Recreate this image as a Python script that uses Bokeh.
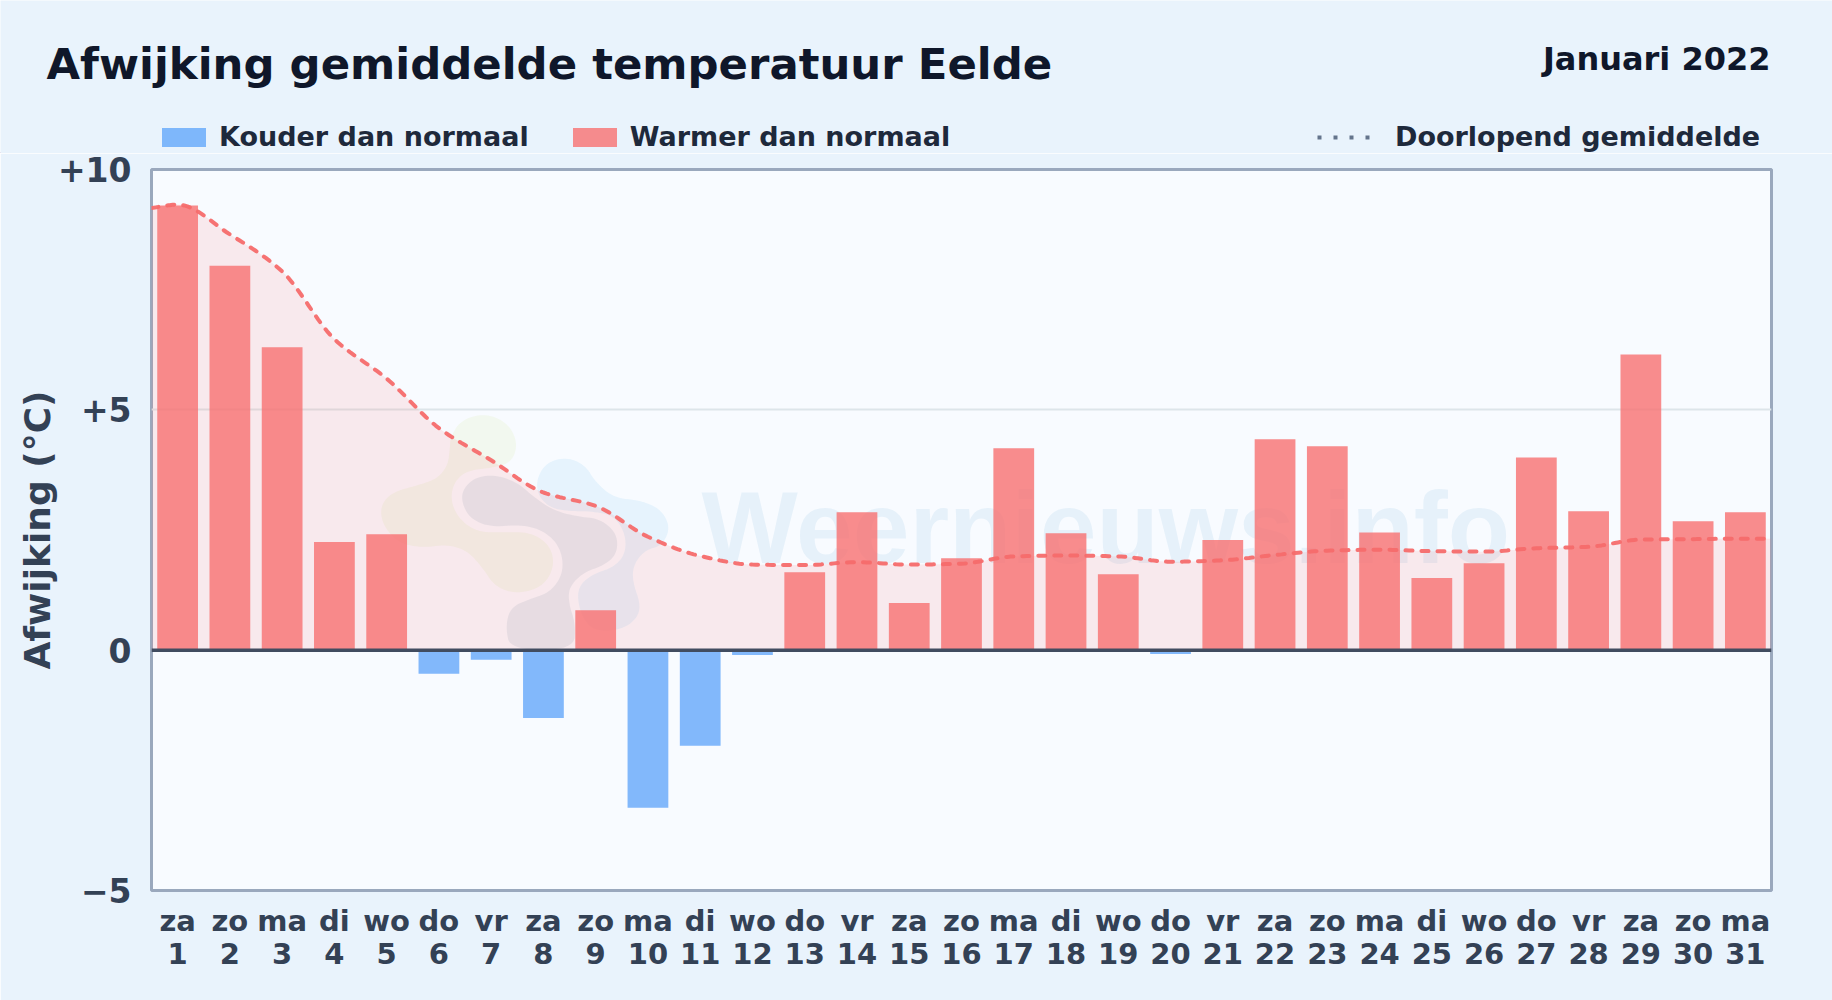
from bokeh.embed import file_html
from bokeh.layouts import column
from bokeh.models import (ColumnDataSource, FixedTicker, Label, Legend, LegendItem, LinearAxis,
                          PolyAnnotation, Range1d, Span)
from bokeh.plotting import figure
from bokeh.resources import INLINE
import numpy as np

TITLE = "Afwijking gemiddelde temperatuur Eelde"
PERIOD = "Januari 2022"
YLABEL = "Afwijking (°C)"
WATERMARK = "Weernieuws.info"

weekdays = ["za", "zo", "ma", "di", "wo", "do", "vr", "za", "zo", "ma", "di", "wo", "do", "vr", "za", "zo",
            "ma", "di", "wo", "do", "vr", "za", "zo", "ma", "di", "wo", "do", "vr", "za", "zo", "ma"]
days = list(range(1, 32))
deviation = [9.25, 8.0, 6.3, 2.25, 2.41, -0.49, -0.2, -1.41, 0.83, -3.28, -1.99, -0.1, 1.62, 2.87, 0.98, 1.91,
             4.2, 2.43, 1.58, -0.08, 2.29, 4.39, 4.24, 2.45, 1.5, 1.81, 4.01, 2.89, 6.15, 2.68, 2.87]
running_mean = [9.27, 8.65, 7.88, 6.47, 5.65, 4.62, 3.95, 3.28, 3.0, 2.36, 1.96, 1.78, 1.77, 1.83, 1.78, 1.8,
                1.95, 1.97, 1.95, 1.84, 1.87, 1.98, 2.07, 2.09, 2.06, 2.05, 2.12, 2.15, 2.3, 2.31, 2.32]
y_ticks = [-5, 0, 5, 10]
y_tick_labels = ["−5", "0", "+5", "+10"]

BG = "#e9f3fc"
PANEL = "#f8fbff"
RED = "#f87171"
BLUE = "#60a5fa"
W, H = 1832, 1000
HEADER_H = 153
LEFT, RIGHT, TOP, BOTTOM = 151, 61, 169, 110
FRAME_BOTTOM = H - BOTTOM


def monotone_path(x, y, per_segment=16):
    """Draw path of a monotone cubic through the daily values."""
    x, y = np.asarray(x, float), np.asarray(y, float)
    h = np.diff(x)
    s = np.diff(y) / h
    m = np.zeros_like(y)
    m[1:-1] = np.where(s[:-1] * s[1:] <= 0, 0, 2 * s[:-1] * s[1:] / (s[:-1] + s[1:]))
    m[0], m[-1] = s[0], s[-1]
    xs, ys = [], []
    for i in range(len(h)):
        t = np.linspace(0, 1, per_segment, endpoint=False)
        xs.extend(x[i] + t * h[i])
        ys.extend((2*t**3 - 3*t**2 + 1) * y[i] + (t**3 - 2*t**2 + t) * h[i] * m[i]
                  + (-2*t**3 + 3*t**2) * y[i+1] + (t**3 - t**2) * h[i] * m[i+1])
    xs.append(x[-1]); ys.append(y[-1])
    return xs, ys


def chaikin(points, rounds=3):
    pts = np.asarray(points, float)
    for _ in range(rounds):
        nxt = np.roll(pts, -1, axis=0)
        pts = np.column_stack([0.75 * pts + 0.25 * nxt, 0.25 * pts + 0.75 * nxt]).reshape(-1, 2)
    return pts


p = figure(width=W, height=H - HEADER_H, output_backend="svg", toolbar_location=None,
           x_range=Range1d(0.5, 31.5), y_range=Range1d(-5, 10),
           min_border_left=LEFT, min_border_right=RIGHT, min_border_top=TOP - HEADER_H, min_border_bottom=BOTTOM,
           background_fill_color=PANEL, border_fill_color=BG,
           outline_line_color="#9aa8bd", outline_line_width=3, frame_align=False)

# --- watermark (logo blobs, traced in a 3x crop whose corner is at page 360,390) ---
def blob(points, color, alpha):
    pts = chaikin(points)
    sx = (360 + pts[:, 0] / 3 - LEFT).tolist()
    sy = (FRAME_BOTTOM - (390 + pts[:, 1] / 3)).tolist()
    p.add_layout(PolyAnnotation(xs=sx, ys=sy, xs_units="screen", ys_units="screen", level="underlay",
                                fill_color=color, fill_alpha=alpha, line_alpha=0))

blob([(270,140),(300,90),(370,68),(440,95),(472,155),(455,215),(395,232),(320,240),(280,275),(270,330),
      (295,385),(350,425),(430,425),(510,425),(570,465),(582,530),(545,590),(470,610),(405,590),(365,530),
      (320,480),(260,462),(180,472),(110,455),(65,400),(60,345),(95,305),(170,285),(230,265),(262,225),(268,175)],
     "#c6e46a", 0.11)
blob([(530,260),(530,310),(565,350),(620,362),(690,362),(760,375),(795,430),(795,490),(760,530),(700,550),
      (660,580),(650,620),(665,680),(700,720),(770,720),(820,695),(843,650),(815,570),(820,520),(855,478),
      (905,465),(930,410),(900,355),(840,330),(760,322),(705,275),(675,225),(620,200),(560,215)],
     "#6cc3ee", 0.13)
blob([(305,300),(340,262),(400,252),(470,275),(520,320),(580,360),(650,378),(720,385),(770,430),(770,490),
      (730,525),(670,545),(625,590),(625,640),(645,700),(640,778),(450,778),(435,710),(450,650),(510,625),
      (570,605),(610,545),(600,470),(550,420),(480,402),(390,410),(330,385),(305,340)],
     "#47708c", 0.10)
p.add_layout(Label(x=701 - LEFT, y=FRAME_BOTTOM - 565 - 0.19 * 102, x_units="screen", y_units="screen",
                   text=WATERMARK, level="underlay", text_font="Liberation Sans", text_font_style="bold",
                   text_font_size="102px", text_color="#5aa0cd", text_alpha=0.11))

# --- data ---
edge_x = [0.5] + days + [31.5]
edge_y = [9.2] + running_mean + [running_mean[-1]]
cx, cy = monotone_path(edge_x, edge_y)
p.varea(x=cx, y1=[0] * len(cx), y2=cy, fill_color=RED, fill_alpha=0.13)

neg = ColumnDataSource(dict(x=[d for d, v in zip(days, deviation) if v < 0],
                            top=[v for v in deviation if v < 0]))
pos = ColumnDataSource(dict(x=[d for d, v in zip(days, deviation) if v >= 0],
                            top=[v for v in deviation if v >= 0]))
p.vbar(x="x", top="top", bottom=0, width=0.78, source=neg, fill_color=BLUE, fill_alpha=0.78, line_alpha=0)
p.vbar(x="x", top="top", bottom=0, width=0.78, source=pos, fill_color=RED, fill_alpha=0.8, line_alpha=0)
p.line(cx, cy, line_color="#f56c6c", line_width=4, line_dash="7 9", line_cap="round", line_alpha=0.95)

p.add_layout(Span(location=0, dimension="width", line_color="#414c60", line_width=3.5))

# --- axes ---
def style_axis(ax, size):
    ax.axis_line_color = None
    ax.major_tick_line_color = None
    ax.minor_tick_line_color = None
    ax.major_label_text_font = "DejaVu Sans"
    ax.major_label_text_font_style = "bold"
    ax.major_label_text_font_size = size
    ax.major_label_text_color = "#334155"

p.xaxis.ticker = FixedTicker(ticks=days)
p.xaxis.major_label_overrides = dict(zip(days, weekdays))
style_axis(p.xaxis[0], "29px")
p.xaxis.major_label_standoff = 7
day_axis = LinearAxis(ticker=FixedTicker(ticks=days), major_label_overrides={d: str(d) for d in days},
                      major_label_standoff=-4)
style_axis(day_axis, "29px")
p.add_layout(day_axis, "below")

p.yaxis.ticker = FixedTicker(ticks=y_ticks)
p.yaxis.major_label_overrides = dict(zip(y_ticks, y_tick_labels))
style_axis(p.yaxis[0], "33px")
p.yaxis.major_label_standoff = 14
p.yaxis.axis_label = YLABEL
p.yaxis.axis_label_text_font = "DejaVu Sans"
p.yaxis.axis_label_text_font_style = "bold"
p.yaxis.axis_label_text_font_size = "36px"
p.yaxis.axis_label_text_color = "#334155"
p.yaxis.axis_label_standoff = -3
p.xgrid.visible = False
p.ygrid.ticker = FixedTicker(ticks=[5])
p.ygrid.grid_line_color = "#dde5ea"
p.ygrid.grid_line_width = 2

# --- header strip: title, period and legends, in a figure of its own above the chart ---
header = figure(width=W, height=HEADER_H, output_backend="svg", toolbar_location=None,
                x_range=Range1d(0, W), y_range=Range1d(0, HEADER_H), x_axis_location=None, y_axis_location=None,
                min_border=0, background_fill_color=BG, border_fill_color=BG, outline_line_color=None,
                frame_align=False)
header.xgrid.visible = False
header.ygrid.visible = False

# legend keys only: these lie outside the header's visible range
blue_key = header.vbar(x=[-10], top=[1], width=1, fill_color=BLUE, fill_alpha=0.78, line_alpha=0)
red_key = header.vbar(x=[-10], top=[1], width=1, fill_color=RED, fill_alpha=0.8, line_alpha=0)
line_key = header.line([-10, -9], [0, 0], line_color="#64748b", line_width=4, line_dash="4 12")


def header_label(x, baseline_y, text, size, **kw):
    header.add_layout(Label(x=x, y=HEADER_H - baseline_y - 0.19 * size, x_units="screen", y_units="screen",
                            text=text, text_font="DejaVu Sans", text_font_style="bold",
                            text_font_size=f"{size}px", text_color="#0f172a", **kw))

header_label(46, 80, TITLE, 43.4)
header_label(1770, 71, PERIOD, 32, text_align="right")


def legend(items, x, glyph_w, standoff, spacing=0):
    lg = Legend(items=items, orientation="horizontal", location=(x, 1), padding=0, margin=0, spacing=spacing,
                glyph_width=glyph_w, glyph_height=24, label_standoff=standoff, border_line_color=None,
                background_fill_alpha=0, label_text_font="DejaVu Sans", label_text_font_style="bold",
                label_text_font_size="27px", label_text_color="#1e293b")
    header.add_layout(lg, "center")

legend([LegendItem(label="Kouder dan normaal", renderers=[blue_key]),
        LegendItem(label="Warmer dan normaal", renderers=[red_key])], 156, 55, 8, 38)
legend([LegendItem(label="Doorlopend gemiddelde", renderers=[line_key])], 1317, 56, 22)

open("out.html", "w").write(file_html(column(header, p, spacing=0), INLINE))
